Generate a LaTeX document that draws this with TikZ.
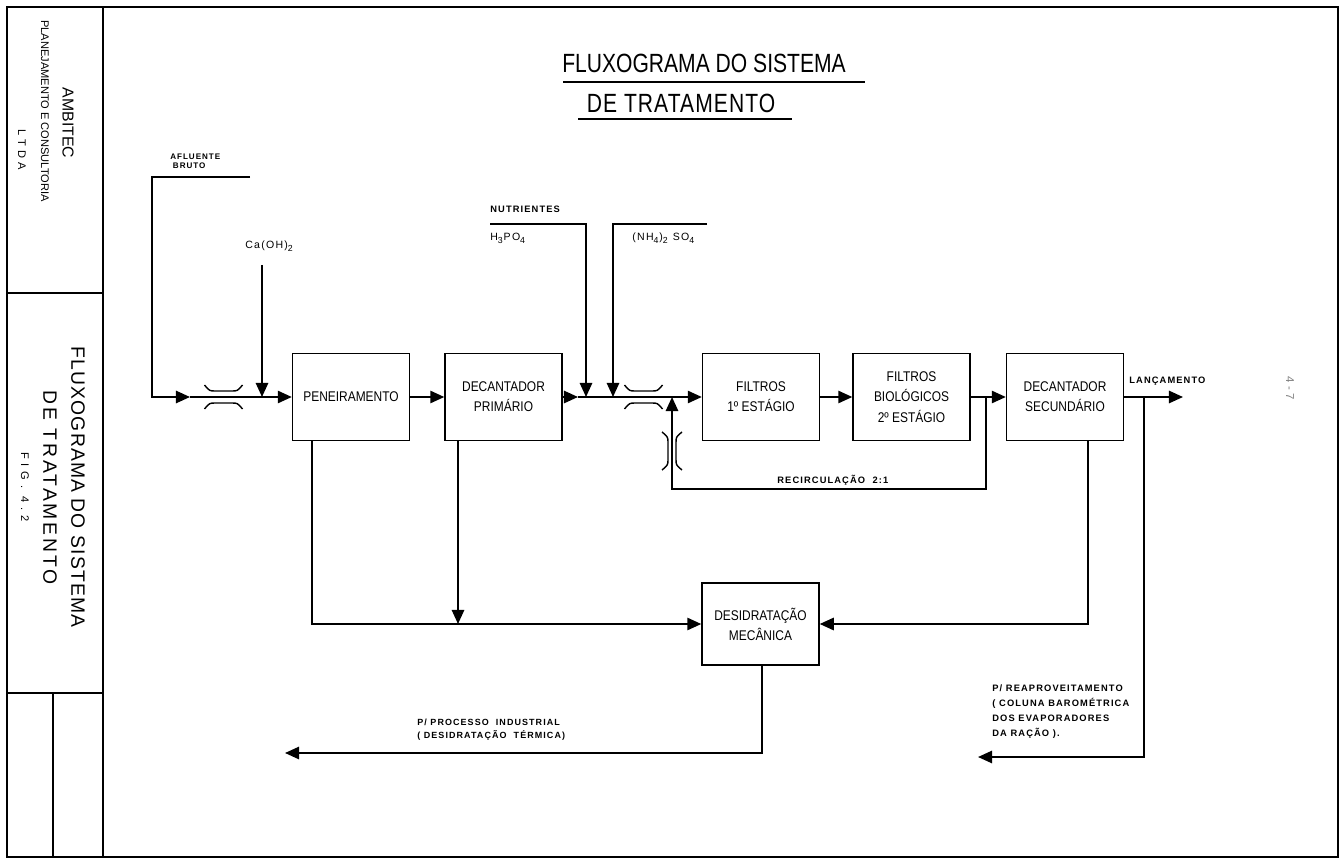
\documentclass[tikz,border=0pt]{standalone}
\usepackage{fontspec}
\setmainfont{Liberation Sans}
\newfontfamily\boxf[FakeStretch=0.85]{Liberation Sans}
\newfontfamily\titf[FakeStretch=0.8]{Liberation Sans}
\newfontfamily\lblf[LetterSpace=12]{Liberation Sans}
\newfontfamily\colf{Liberation Sans}
\usetikzlibrary{arrows.meta}
\tikzset{
  proc/.style={draw, line width=0.8pt, minimum width=2.34cm, minimum height=1.74cm,
    inner sep=0pt, align=center, font=\boxf\fontsize{8}{11.5}\selectfont},
  flow/.style={line width=1.1pt},
  arr/.style={flow, -{Triangle[length=8pt,width=7pt]}},
  lbl/.style={inner sep=0pt, anchor=base west, font=\lblf\bfseries\fontsize{5.3}{8.5}\selectfont},
  lblsm/.style={inner sep=0pt, anchor=west, align=left, font=\lblf\bfseries\fontsize{4.6}{5.4}\selectfont},
  chem/.style={inner sep=0pt, anchor=base west, font=\lblf\fontsize{6}{7}\selectfont},
  frm/.style={line width=1pt},
  vent/.style={line width=0.8pt},
  coltxt/.style={rotate=-90, inner sep=0pt}
}
\newcommand\ventH[2]{%
  \draw[vent] ({#1-19},{#2-12}) .. controls ({#1-14},{#2-6}) .. ({#1-8},{#2-6}) -- ({#1+8},{#2-6}) .. controls ({#1+14},{#2-6}) .. ({#1+19},{#2-12});
  \draw[vent] ({#1-19},{#2+12}) .. controls ({#1-14},{#2+6}) .. ({#1-8},{#2+6}) -- ({#1+8},{#2+6}) .. controls ({#1+14},{#2+6}) .. ({#1+19},{#2+12});}
\newcommand\ventV[2]{%
  \draw[vent] ({#1-10},{#2-19}) .. controls ({#1-4},{#2-14}) .. ({#1-4},{#2-8}) -- ({#1-4},{#2+8}) .. controls ({#1-4},{#2+14}) .. ({#1-10},{#2+19});
  \draw[vent] ({#1+10},{#2-19}) .. controls ({#1+4},{#2-14}) .. ({#1+4},{#2-8}) -- ({#1+4},{#2+8}) .. controls ({#1+4},{#2+14}) .. ({#1+10},{#2+19});}
\begin{document}
\begin{tikzpicture}[x=0.02cm,y=-0.02cm]
\useasboundingbox (0,0) rectangle (1341,861);
% frame
\draw[frm] (7,7) rectangle (1338,857);
\draw[frm] (103,7) -- (103,857);
\draw[frm] (7,293) -- (103,293);
\draw[frm] (7,693) -- (103,693);
\draw[frm] (53,693) -- (53,857);
% title block
\node[coltxt, font=\colf\fontsize{9}{10}\selectfont] (amb) at (68,123) {AMBITEC};
\node[coltxt, font=\colf\fontsize{6.3}{7}\selectfont] (plan) at (45,111) {PLANEJAMENTO E CONSULTORIA};
\node[coltxt, font=\colf\fontsize{6.3}{7}\selectfont\addfontfeature{LetterSpace=40}] (ltda) at (22,150) {LTDA};
\node[coltxt, font=\colf\fontsize{11}{12}\selectfont\addfontfeature{LetterSpace=6}] (cf1) at (78,487) {FLUXOGRAMA DO SISTEMA};
\node[coltxt, font=\colf\fontsize{11}{12}\selectfont\addfontfeature{LetterSpace=15}] (cf2) at (50,488) {DE TRATAMENTO};
\node[coltxt, font=\colf\fontsize{6.3}{7}\selectfont\addfontfeature{LetterSpace=45}] (cf3) at (25,487) {FIG. 4.2};
% main title
\node[inner sep=0pt, font=\titf\fontsize{15}{18}\selectfont] (t1) at (704,63) {FLUXOGRAMA DO SISTEMA};
\node[inner sep=0pt, font=\titf\fontsize{15}{18}\selectfont\addfontfeature{LetterSpace=4}] (t2) at (681,103) {DE TRATAMENTO};
\draw[line width=1.2pt] (563,82) -- (865,82);
\draw[line width=1.2pt] (578,119) -- (792,119);
% boxes
\node[proc] (pen) at (351,397) {PENEIRAMENTO};
\node[proc] (dp) at (503.5,397) {DECANTADOR\\PRIMÁRIO};
\node[proc] (f1) at (761,397) {FILTROS\\1º ESTÁGIO};
\node[proc] (fb) at (911.5,397) {FILTROS\\BIOLÓGICOS\\2º ESTÁGIO};
\node[proc] (ds) at (1065,397) {DECANTADOR\\SECUNDÁRIO};
\node[proc, minimum height=1.64cm] (des) at (760.5,624) {DESIDRATAÇÃO\\MECÂNICA};
% labels
\node[lblsm] (afl) at (170,161.5) {AFLUENTE\\\hspace*{1.5pt}BRUTO};
\node[chem] (ca) at (245,249) {Ca(OH)\textsubscript{2}};
\node[lbl] (nut) at (490,213) {NUTRIENTES};
\node[chem] (h3) at (490,241) {H\textsubscript{3}PO\textsubscript{4}};
\node[chem] (nh) at (632,241) {(NH\textsubscript{4})\textsubscript{2} SO\textsubscript{4}};
\node[lbl] (rec) at (777,483) {RECIRCULAÇÃO\ \ 2:1};
\node[lbl] (lan) at (1129,383) {LANÇAMENTO};
\node[lbl, anchor=west, align=left] (reap) at (992,711.5) {P/ REAPROVEITAMENTO\\( COLUNA BAROMÉTRICA\\DOS EVAPORADORES\\DA RAÇÃO ).};
\node[lbl, anchor=west, align=left, font=\lblf\bfseries\fontsize{5.1}{7.4}\selectfont] (proc) at (417,729.5) {P/ PROCESSO\ \ INDUSTRIAL\\( DESIDRATAÇÃO\ \ TÉRMICA)};
\node[coltxt, text=gray, font=\colf\fontsize{6.5}{7}\selectfont] (pg) at (1290,388) {4 - 7};
% coordinates
\coordinate (afA) at (250,177);
\coordinate (afB) at (152,177);
\coordinate (afC) at (152,397);
\coordinate (afD) at (190,397);
\coordinate (caT) at (262,265);
\coordinate (caB) at (262,397);
\coordinate (m2) at (578,397);
\coordinate (nuA) at (490,224);
\coordinate (nuB) at (586,224);
\coordinate (nuC) at (586,397);
\coordinate (nhA) at (707,224);
\coordinate (nhB) at (613,224);
\coordinate (nhC) at (613,397);
\coordinate (j1) at (986,397);
\coordinate (rcA) at (986,489);
\coordinate (rcB) at (672,489);
\coordinate (rcC) at (672,397);
\coordinate (lz) at (1183,397);
\coordinate (j2) at (1144,397);
\coordinate (rzA) at (1144,757);
\coordinate (rzB) at (978,757);
\coordinate (pX) at (312,624);
\coordinate (dX) at (458,624);
\coordinate (sX) at (1088,624);
\coordinate (eX) at (762,753);
\coordinate (eY) at (285,753);
% connectors
\draw[arr] (afA) -- (afB) -- (afC) -- (afD);
\draw[arr] (afD) -- (pen.west);
\draw[arr] (caT) -- (caB);
\draw[arr] (pen) -- (dp);
\draw[arr] (dp.east) -- (m2);
\draw[arr] (m2) -- (f1.west);
\draw[arr] (nuA) -- (nuB) -- (nuC);
\draw[arr] (nhA) -- (nhB) -- (nhC);
\draw[arr] (f1) -- (fb);
\draw[arr] (fb) -- (ds);
\draw[arr] (j1) -- (rcA) -- (rcB) -- (rcC);
\draw[arr] (ds.east) -- (lz);
\draw[arr] (j2) -- (rzA) -- (rzB);
\draw[arr] (pen.south -| pX) -- (pX) -- (des.west);
\draw[arr] (dp.south -| dX) -- (dX);
\draw[arr] (ds.south -| sX) -- (sX) -- (des.east);
\draw[arr] (des.south -| eX) -- (eX) -- (eY);
% flow meters
\ventH{223.5}{397}
\ventH{643.5}{397}
\ventV{672}{451}
\end{tikzpicture}
\end{document}
